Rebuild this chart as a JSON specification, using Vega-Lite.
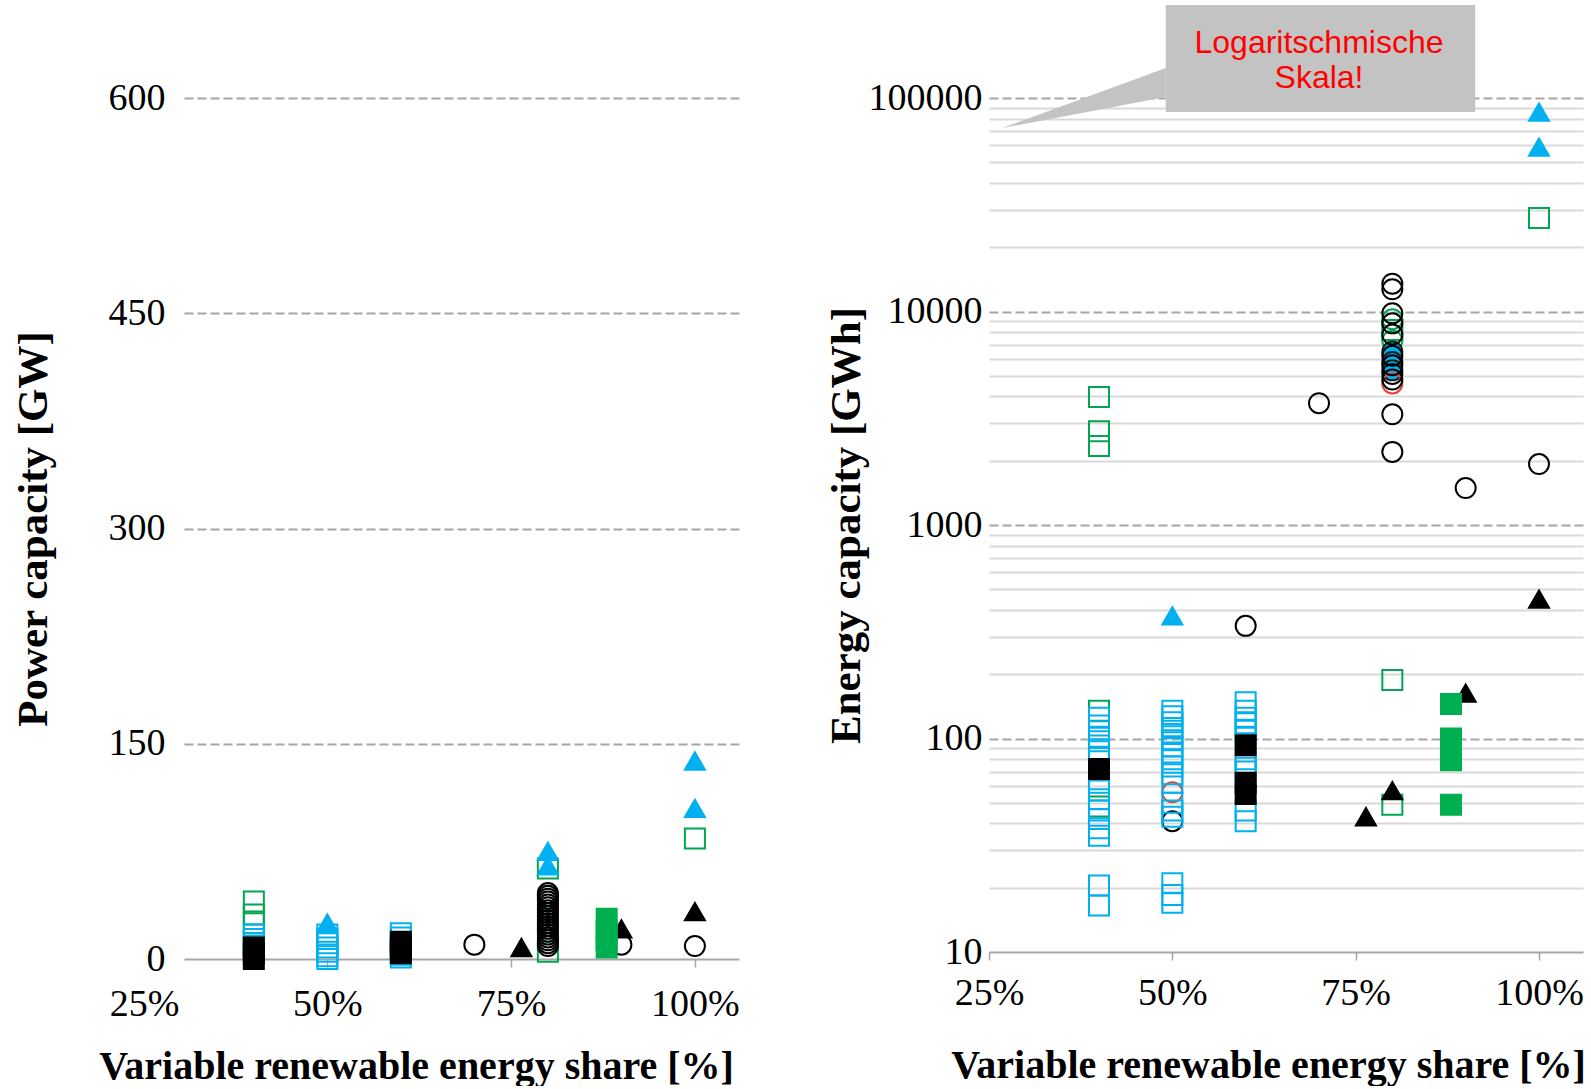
{
  "$schema": "https://vega.github.io/schema/vega-lite/v6.json",
  "background": "white",
  "padding": {"left": 12, "top": 5, "right": 5, "bottom": 0},
  "bounds": "flush",
  "spacing": 250,
  "resolve": {"scale": {"x": "independent", "y": "independent"}},
  "config": {"view": {"stroke": null}, "font": "Liberation Serif", "axis": {"labelFont": "Liberation Serif", "titleFont": "Liberation Serif"}},
  "datasets": {
    "power": [
      {"s": 90, "v": 10, "t": "kci"},
      {"s": 90, "v": 21, "t": "ktr"},
      {"s": 88, "v": 28, "t": "gfs"}, {"s": 88, "v": 20, "t": "gfs"}, {"s": 88, "v": 13, "t": "gfs"}, {"s": 88, "v": 8, "t": "gfs"},
      {"s": 40, "v": 40, "t": "gsq"}, {"s": 40, "v": 31, "t": "gsq"}, {"s": 40, "v": 25, "t": "gsq"},
      {"s": 40, "v": 17, "t": "bsq"}, {"s": 40, "v": 14, "t": "bsq"}, {"s": 40, "v": 11, "t": "bsq"}, {"s": 40, "v": 9, "t": "bsq"},
      {"s": 40, "v": 8, "t": "ksq"}, {"s": 40, "v": 4, "t": "ksq"}, {"s": 40, "v": 0, "t": "ksq"},
      {"s": 50, "v": 25, "t": "btr"},
      {"s": 50, "v": 17, "t": "bsq"}, {"s": 50, "v": 14, "t": "bsq"}, {"s": 50, "v": 11, "t": "bsq"}, {"s": 50, "v": 8, "t": "bsq"}, {"s": 50, "v": 5, "t": "bsq"}, {"s": 50, "v": 2, "t": "bsq"}, {"s": 50, "v": 0, "t": "bsq"},
      {"s": 60, "v": 18, "t": "bsq"}, {"s": 60, "v": 15, "t": "bsq"}, {"s": 60, "v": 11, "t": "bsq"}, {"s": 60, "v": 7, "t": "bsq"}, {"s": 60, "v": 3, "t": "bsq"}, {"s": 60, "v": 1, "t": "bsq"},
      {"s": 60, "v": 12, "t": "ksq"}, {"s": 60, "v": 8, "t": "ksq"}, {"s": 60, "v": 4, "t": "ksq"},
      {"s": 70, "v": 10, "t": "kci"},
      {"s": 76.4, "v": 8, "t": "ktr"},
      {"s": 80, "v": 63, "t": "gsq"}, {"s": 80, "v": 5, "t": "gsq"},
      {"s": 80, "v": 44, "t": "gci"}, {"s": 80, "v": 28, "t": "gci"},
      {"s": 80, "v": 46, "t": "kci"}, {"s": 80, "v": 44, "t": "kci"}, {"s": 80, "v": 42, "t": "kci"}, {"s": 80, "v": 40, "t": "kci"}, {"s": 80, "v": 38, "t": "kci"}, {"s": 80, "v": 36, "t": "kci"}, {"s": 80, "v": 34, "t": "kci"}, {"s": 80, "v": 32, "t": "kci"}, {"s": 80, "v": 30, "t": "kci"}, {"s": 80, "v": 27, "t": "kci"}, {"s": 80, "v": 25, "t": "kci"}, {"s": 80, "v": 23, "t": "kci"}, {"s": 80, "v": 21, "t": "kci"}, {"s": 80, "v": 19, "t": "kci"}, {"s": 80, "v": 17, "t": "kci"}, {"s": 80, "v": 15, "t": "kci"}, {"s": 80, "v": 13, "t": "kci"}, {"s": 80, "v": 11, "t": "kci"}, {"s": 80, "v": 9, "t": "kci"},
      {"s": 80, "v": 75, "t": "btr"}, {"s": 80, "v": 65, "t": "btr"},
      {"s": 100, "v": 138, "t": "btr"}, {"s": 100, "v": 105, "t": "btr"}, {"s": 100, "v": 84, "t": "gsq"}, {"s": 100, "v": 33, "t": "ktr"}, {"s": 100, "v": 9, "t": "kci"}
    ],
    "energy": [
      {"s": 90, "v": 1490, "t": "kci"}, {"s": 90, "v": 163, "t": "ktr"},
      {"s": 88, "v": 145, "t": "gfs"}, {"s": 88, "v": 100, "t": "gfs"}, {"s": 88, "v": 90, "t": "gfs"}, {"s": 88, "v": 79, "t": "gfs"}, {"s": 88, "v": 49, "t": "gfs"},
      {"s": 40, "v": 3980, "t": "gsq"}, {"s": 40, "v": 2750, "t": "gsq"}, {"s": 40, "v": 2345, "t": "gsq"}, {"s": 40, "v": 135, "t": "gsq"}, {"s": 40, "v": 48, "t": "gsq"},
      {"s": 40, "v": 125, "t": "bsq"}, {"s": 40, "v": 115, "t": "bsq"}, {"s": 40, "v": 108, "t": "bsq"}, {"s": 40, "v": 102, "t": "bsq"}, {"s": 40, "v": 97, "t": "bsq"}, {"s": 40, "v": 89, "t": "bsq"}, {"s": 40, "v": 81, "t": "bsq"}, {"s": 40, "v": 62, "t": "bsq"}, {"s": 40, "v": 57, "t": "bsq"}, {"s": 40, "v": 52, "t": "bsq"}, {"s": 40, "v": 46, "t": "bsq"}, {"s": 40, "v": 42, "t": "bsq"}, {"s": 40, "v": 38, "t": "bsq"}, {"s": 40, "v": 35, "t": "bsq"}, {"s": 40, "v": 20.5, "t": "bsq"}, {"s": 40, "v": 16.5, "t": "bsq"},
      {"s": 40, "v": 72, "t": "ksq"},
      {"s": 50, "v": 56, "t": "rci"}, {"s": 50, "v": 41, "t": "kci"},
      {"s": 50, "v": 135, "t": "bsq"}, {"s": 50, "v": 127, "t": "bsq"}, {"s": 50, "v": 119, "t": "bsq"}, {"s": 50, "v": 112, "t": "bsq"}, {"s": 50, "v": 105, "t": "bsq"}, {"s": 50, "v": 98, "t": "bsq"}, {"s": 50, "v": 92, "t": "bsq"}, {"s": 50, "v": 86, "t": "bsq"}, {"s": 50, "v": 80, "t": "bsq"}, {"s": 50, "v": 74, "t": "bsq"}, {"s": 50, "v": 68, "t": "bsq"}, {"s": 50, "v": 62, "t": "bsq"}, {"s": 50, "v": 50, "t": "bsq"}, {"s": 50, "v": 46, "t": "bsq"}, {"s": 50, "v": 43, "t": "bsq"}, {"s": 50, "v": 21, "t": "bsq"}, {"s": 50, "v": 18.5, "t": "bsq"}, {"s": 50, "v": 17, "t": "bsq"},
      {"s": 50, "v": 375, "t": "btr"},
      {"s": 60, "v": 337, "t": "kci"},
      {"s": 60, "v": 148, "t": "bsq"}, {"s": 60, "v": 135, "t": "bsq"}, {"s": 60, "v": 125, "t": "bsq"}, {"s": 60, "v": 118, "t": "bsq"}, {"s": 60, "v": 110, "t": "bsq"}, {"s": 60, "v": 102, "t": "bsq"}, {"s": 60, "v": 80, "t": "bsq"}, {"s": 60, "v": 73, "t": "bsq"}, {"s": 60, "v": 70, "t": "bsq"}, {"s": 60, "v": 46, "t": "bsq"}, {"s": 60, "v": 41, "t": "bsq"},
      {"s": 60, "v": 93, "t": "ksq"}, {"s": 60, "v": 62, "t": "ksq"}, {"s": 60, "v": 55, "t": "ksq"},
      {"s": 70, "v": 3720, "t": "kci"},
      {"s": 76.4, "v": 43, "t": "ktr"},
      {"s": 80, "v": 8200, "t": "gsq"}, {"s": 80, "v": 188, "t": "gsq"}, {"s": 80, "v": 49, "t": "gsq"},
      {"s": 80, "v": 9200, "t": "gci"}, {"s": 80, "v": 7300, "t": "gci"},
      {"s": 80, "v": 6500, "t": "bci"}, {"s": 80, "v": 5800, "t": "bci"}, {"s": 80, "v": 5300, "t": "bci"},
      {"s": 80, "v": 4600, "t": "rci"},
      {"s": 80, "v": 13500, "t": "kci"}, {"s": 80, "v": 12700, "t": "kci"}, {"s": 80, "v": 9800, "t": "kci"}, {"s": 80, "v": 8800, "t": "kci"}, {"s": 80, "v": 7800, "t": "kci"}, {"s": 80, "v": 6200, "t": "kci"}, {"s": 80, "v": 5600, "t": "kci"}, {"s": 80, "v": 5100, "t": "kci"}, {"s": 80, "v": 4800, "t": "kci"}, {"s": 80, "v": 3300, "t": "kci"}, {"s": 80, "v": 2200, "t": "kci"},
      {"s": 80, "v": 57, "t": "ktr"},
      {"s": 100, "v": 85900, "t": "btr"}, {"s": 100, "v": 58900, "t": "btr"}, {"s": 100, "v": 27400, "t": "gsq"}, {"s": 100, "v": 1930, "t": "kci"}, {"s": 100, "v": 450, "t": "ktr"}
    ]
  },
  "hconcat": [
    {
      "width": 555,
      "height": 861,
      "data": {"name": "power"},
      "mark": {"type": "point", "size": 400, "strokeWidth": 2, "opacity": 1},
      "encoding": {
        "x": {
          "field": "s", "type": "quantitative",
          "scale": {"domain": [30.5, 106], "nice": false, "zero": false},
          "axis": {
            "values": [30.5, 50, 75, 100],
            "labelExpr": "datum.value == 30.5 ? '25%' : datum.value + '%'",
            "labelOffset": {"condition": {"test": "datum.value == 30.5", "value": -40}, "value": 0},
            "tickOpacity": {"condition": {"test": "datum.value == 30.5", "value": 0}, "value": 1},
            "title": "Variable renewable energy share [%]",
            "titleFontWeight": "bold", "titleFontSize": 40, "titleColor": "#000000",
            "titlePadding": 23, "titleX": 232,
            "labelFontSize": 38, "labelColor": "#000000", "labelPadding": 18,
            "labelFlush": false, "labelOverlap": false, "labelBound": false,
            "tickSize": 8, "tickColor": "#a6a6a6", "tickWidth": 1.5,
            "domainColor": "#a6a6a6", "domainWidth": 2, "grid": false
          }
        },
        "y": {
          "field": "v", "type": "quantitative",
          "scale": {"domain": [0, 600], "nice": false},
          "axis": {
            "values": [0, 150, 300, 450, 600],
            "domain": false, "ticks": false, "tickSize": 0,
            "grid": true, "gridDash": [9, 4], "gridColor": "#a6a6a6", "gridWidth": 2,
            "gridOpacity": {"condition": {"test": "datum.value == 0", "value": 0}, "value": 1},
            "labelFontSize": 38, "labelColor": "#000000", "labelPadding": 19,
            "title": "Power capacity [GW]", "titleFontSize": 43, "titleFontWeight": "bold",
            "titleColor": "#000000", "titlePadding": 53
          }
        },
        "shape": {"field": "t", "type": "nominal", "legend": null,
          "scale": {"domain": ["gsq", "bsq", "ksq", "gfs", "btr", "ktr", "kci", "rci", "gci", "bci"],
                    "range": ["square", "square", "square", "square", "triangle-up", "triangle-up", "circle", "circle", "circle", "circle"]}},
        "stroke": {"field": "t", "type": "nominal", "legend": null,
          "scale": {"domain": ["gsq", "bsq", "ksq", "gfs", "btr", "ktr", "kci", "rci", "gci", "bci"],
                    "range": ["#00a651", "#00b0f0", "#000000", "#00b050", "#00b0f0", "#000000", "#000000", "#e8412c", "#00a651", "#1a1a1a"]}},
        "fill": {"field": "t", "type": "nominal", "legend": null,
          "scale": {"domain": ["gsq", "bsq", "ksq", "gfs", "btr", "ktr", "kci", "rci", "gci", "bci"],
                    "range": ["transparent", "transparent", "#000000", "#00b050", "#00b0f0", "#000000", "transparent", "transparent", "transparent", "#00b0f0"]}}
      }
    },
    {
      "width": 594,
      "height": 854,
      "layer": [
        {
          "data": {"name": "energy"},
          "mark": {"type": "point", "size": 400, "strokeWidth": 2, "opacity": 1},
          "encoding": {
            "x": {
              "field": "s", "type": "quantitative",
              "scale": {"domain": [25, 106], "nice": false, "zero": false},
              "axis": {
                "values": [25, 50, 75, 100],
                "labelExpr": "datum.value + '%'",
                "title": "Variable renewable energy share [%]",
                "titleFontWeight": "bold", "titleFontSize": 40, "titleColor": "#000000",
                "titlePadding": 33, "titleX": 279,
                "labelFontSize": 38, "labelColor": "#000000", "labelPadding": 14,
                "labelFlush": false, "labelOverlap": false, "labelBound": false,
                "tickSize": 8, "tickColor": "#a6a6a6", "tickWidth": 1.5,
                "domainColor": "#a6a6a6", "domainWidth": 2, "grid": false
              }
            },
            "y": {
              "field": "v", "type": "quantitative",
              "scale": {"type": "log", "domain": [10, 100000], "nice": false},
              "axis": {
                "values": [10, 20, 30, 40, 50, 60, 70, 80, 90, 100, 200, 300, 400, 500, 600, 700, 800, 900, 1000, 2000, 3000, 4000, 5000, 6000, 7000, 8000, 9000, 10000, 20000, 30000, 40000, 50000, 60000, 70000, 80000, 90000, 100000],
                "labelExpr": "indexof([10, 100, 1000, 10000, 100000], datum.value) >= 0 ? format(datum.value, 'd') : ''",
                "labelOverlap": false, "labelBound": false, "labelFlush": false,
                "domain": false, "ticks": false, "tickSize": 0,
                "grid": true,
                "gridDash": {"condition": {"test": "indexof([100, 1000, 10000, 100000], datum.value) >= 0", "value": [9, 4]}, "value": []},
                "gridColor": {"condition": {"test": "indexof([100, 1000, 10000, 100000], datum.value) >= 0", "value": "#a6a6a6"}, "value": "#d9d9d9"},
                "gridWidth": 2,
                "gridOpacity": {"condition": {"test": "datum.value == 10", "value": 0}, "value": 1},
                "labelFontSize": 38, "labelColor": "#000000", "labelPadding": 7,
                "title": "Energy capacity [GWh]", "titleFontSize": 43, "titleFontWeight": "bold",
                "titleColor": "#000000", "titlePadding": 0
              }
            },
            "shape": {"field": "t", "type": "nominal", "legend": null,
              "scale": {"domain": ["gsq", "bsq", "ksq", "gfs", "btr", "ktr", "kci", "rci", "gci", "bci"],
                        "range": ["square", "square", "square", "square", "triangle-up", "triangle-up", "circle", "circle", "circle", "circle"]}},
            "stroke": {"field": "t", "type": "nominal", "legend": null,
              "scale": {"domain": ["gsq", "bsq", "ksq", "gfs", "btr", "ktr", "kci", "rci", "gci", "bci"],
                        "range": ["#00a651", "#00b0f0", "#000000", "#00b050", "#00b0f0", "#000000", "#000000", "#e8412c", "#00a651", "#1a1a1a"]}},
            "fill": {"field": "t", "type": "nominal", "legend": null,
              "scale": {"domain": ["gsq", "bsq", "ksq", "gfs", "btr", "ktr", "kci", "rci", "gci", "bci"],
                        "range": ["transparent", "transparent", "#000000", "#00b050", "#00b0f0", "#000000", "transparent", "transparent", "transparent", "#00b0f0"]}}
          }
        },
        {
          "data": {"values": [{"px": 26.8, "py": 72350, "py2": 72350}, {"px": 49.1, "py": 138200, "py2": 101100}]},
          "mark": {"type": "area", "color": "#c3c3c3", "clip": false},
          "encoding": {
            "x": {"field": "px", "type": "quantitative"},
            "y": {"field": "py", "type": "quantitative"},
            "y2": {"field": "py2"}
          }
        },
        {
          "data": {"values": [{}]},
          "mark": {"type": "rect", "color": "#c3c3c3", "clip": false},
          "encoding": {
            "x": {"datum": 49.1, "type": "quantitative"},
            "x2": {"datum": 91.3},
            "y": {"datum": 272600, "type": "quantitative"},
            "y2": {"datum": 85900}
          }
        },
        {
          "data": {"values": [{}]},
          "mark": {"type": "text", "font": "Liberation Sans", "fontSize": 32, "color": "#ff0000", "lineHeight": 35, "align": "center", "baseline": "middle", "clip": false},
          "encoding": {
            "x": {"datum": 70, "type": "quantitative"},
            "y": {"datum": 180600, "type": "quantitative"},
            "text": {"value": ["Logaritschmische", "Skala!"]}
          }
        }
      ]
    }
  ]
}
